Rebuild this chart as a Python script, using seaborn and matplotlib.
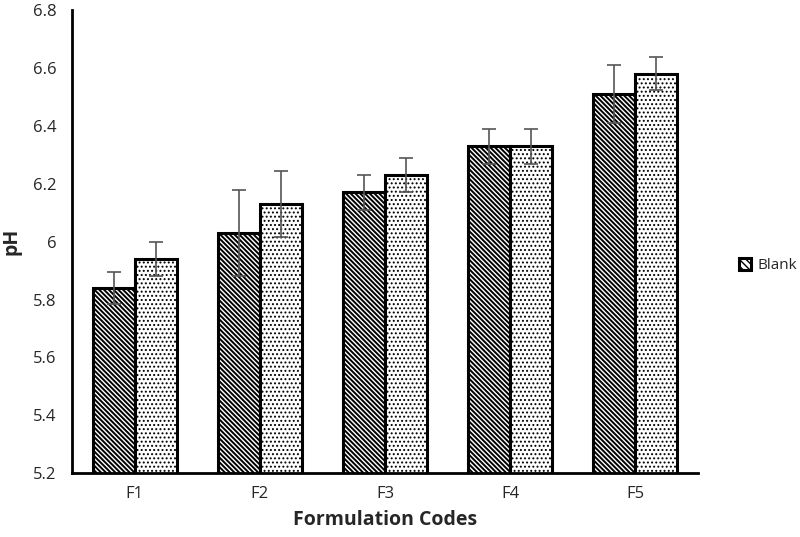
import pandas as pd
import numpy as np
import matplotlib
matplotlib.use("Agg")
import matplotlib.pyplot as plt
import seaborn as sns

# Data
codes = ["F1", "F2", "F3", "F4", "F5"]
blank_ph = [5.84, 6.03, 6.17, 6.33, 6.51]
blank_err = [0.056, 0.15, 0.06, 0.06, 0.10]
form_ph = [5.94, 6.13, 6.23, 6.33, 6.58]
form_err = [0.058, 0.115, 0.06, 0.06, 0.057]
series = ["Blank", "Formulation"]

df = pd.DataFrame({
    "Code": codes * 2,
    "pH": blank_ph + form_ph,
    "err": blank_err + form_err,
    "Series": [series[0]] * 5 + [series[1]] * 5,
})

sns.set_style("white")
plt.rcParams["font.family"] = ["Open Sans", "DejaVu Sans"]
plt.rcParams["hatch.linewidth"] = 1.0

fig, ax = plt.subplots(figsize=(8, 5.37), dpi=100)
fig.subplots_adjust(left=0.09, right=0.8725, bottom=0.119, top=0.981)

sns.barplot(data=df, x="Code", y="pH", hue="Series", palette=["white", "white"],
            width=0.67, errorbar=None, ax=ax, edgecolor="black", linewidth=2.2)

hatches = ["\\" * 7, "...."]
hatch_lw = [1.4, 0.9]
for cont, h, lw, s in zip(ax.containers, hatches, hatch_lw, series):
    errs = df[df["Series"] == s]["err"].values
    vals = df[df["Series"] == s]["pH"].values
    for bar in cont:
        bar.set_hatch(h)
        bar.set_edgecolor("black")
        if hasattr(bar, "set_hatch_linewidth"):
            bar.set_hatch_linewidth(lw)
    xs = [b.get_x() + b.get_width() / 2 for b in cont]
    ax.errorbar(xs, vals, yerr=errs, fmt="none", ecolor="#555555",
                elinewidth=1.2, capsize=5, capthick=1.2, zorder=5)

ax.set_ylim(5.2, 6.8)
ax.set_yticks(np.arange(5.2, 6.81, 0.2))
ax.set_yticklabels(["5.2", "5.4", "5.6", "5.8", "6", "6.2", "6.4", "6.6", "6.8"])
ax.set_xlim(-0.5, 4.5)

# tick marks between categories, labels centred
ax.set_xticks(np.arange(-0.5, 4.6, 1.0))
ax.set_xticklabels([])
ax.set_xticks(range(5), minor=True)
ax.set_xticklabels(codes, minor=True)
ax.tick_params(axis="x", which="minor", length=0, pad=9, labelsize=12)
ax.tick_params(axis="x", which="major", length=5, width=2, direction="out")
ax.tick_params(axis="y", length=5, width=2, direction="out", labelsize=12, pad=6)

for sp in ["top", "right"]:
    ax.spines[sp].set_visible(False)
for sp in ["left", "bottom"]:
    ax.spines[sp].set_linewidth(2)
    ax.spines[sp].set_color("black")

ax.set_xlabel("Formulation Codes", fontsize=14, fontweight="bold", labelpad=6)
ax.set_ylabel("pH", fontsize=14, fontweight="bold", labelpad=8)

handles, labels = ax.get_legend_handles_labels()
ax.legend_.remove()
for hd in handles:
    hd.set_hatch("\\" * 5)
fig.legend(handles[:1], labels[:1], loc="center left", bbox_to_anchor=(0.91, 0.505),
           frameon=False, fontsize=11, handlelength=0.8, handleheight=0.8,
           handletextpad=0.4, borderpad=0.2)

fig.savefig("out.png", dpi=100)
